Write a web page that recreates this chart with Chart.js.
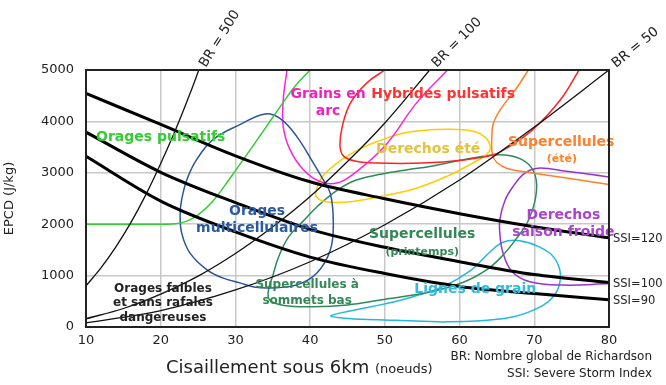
<!DOCTYPE html>
<html><head><meta charset="utf-8">
<script src="https://cdn.jsdelivr.net/npm/chart.js@4.4.1/dist/chart.umd.min.js"></script>
<style>html,body{margin:0;padding:0;background:#fff}#w{width:666px;height:385px;position:relative}</style>
</head><body><div id="w"><canvas id="c"></canvas></div>
<script>
// ---- data (shear in knots, EPCD in J/kg) ----
const xTicks = [10,20,30,40,50,60,70,80];
const yTicks = [0,1000,2000,3000,4000,5000];

const ssi120 = [[10,4545],[20,3940],[30,3330],[40,2825],[50,2495],[60,2205],[70,1950],[80,1735]];
const ssi100 = [[10,3790],[20,3010],[30,2420],[40,1900],[50,1550],[60,1270],[70,1020],[80,864]];
const ssi90  = [[10,3320],[20,2450],[30,1850],[40,1360],[50,1040],[60,790],[70,650],[80,530]];

const br500 = [[10,800],[12,1150],[14,1560],[16,2030],[18,2570],[20,3180],[22,3840],[24,4570],[25.1,5000]];
const br100 = [[10,160],[15,360],[20,640],[25,990],[30,1430],[35,1950],[40,2540],[45,3220],[50,3970],[56,5000]];
const br50  = [[10,80],[20,320],[30,720],[40,1270],[50,1990],[60,2860],[70,3890],[80,5000]];

const oragesPulsatifs = [[10,2000],[18,2000],[22,2010],[23.5,2060],[25,2180],[27,2450],[29.3,2900],[32,3450],[34,3870],[36.4,4370],[38,4690],[40,5000]];
const multicell = [[34,4145],[30.6,3937],[27,3645],[24.8,3255],[23.5,2865],[22.8,2475],[22.6,2200],[22.8,1832],[23.9,1442],[26.2,1111],[28.3,955],[30.6,858],[32.5,780],[34.6,760],[38.2,819],[40.9,1052],[42.7,1500],[43.1,2027],[42.7,2600],[41.6,2900],[40.4,3196],[38.2,3709],[36,4054]];
const grainsArc = [[36.9,5000],[36.4,4420],[36.4,3900],[37.3,3450],[39.1,3060],[41.3,2830],[43.6,2800],[46,3000],[50,3520],[54.3,4370],[58.4,5000]];
const hybrides = [[50,5000],[47.6,4750],[45.4,4360],[44.3,3900],[44,3520],[44.5,3320],[46.2,3225],[49,3190],[55,3190],[60.5,3250],[64.5,3350],[66.3,3480],[69.8,3840],[73.5,4420],[76,5000]];
const derechosEte = [[40.8,2650],[41.5,2900],[43,3120],[45,3330],[47.3,3510],[49.4,3630],[51.6,3740],[54,3810],[58,3845],[61.8,3810],[63.5,3680],[64.1,3480],[63.4,3330],[61.5,3170],[58.3,2930],[54,2690],[49.4,2540],[45,2430],[42,2440],[40.8,2540]];
const supercellEte = [[69.2,5000],[67.5,4620],[65.5,4240],[64.5,3950],[64.3,3600],[64.4,3350],[65,3200],[66.3,3090],[69.6,3000],[74.3,2900],[80,2770]];
const supercellPrint = [[65.5,3350],[68.3,3260],[69.9,3030],[70.3,2650],[69.3,2100],[67.5,1700],[65.5,1350],[63.5,1100],[60.5,870],[56,680],[49.4,526],[45,430],[40.4,395],[36.5,420],[34.6,520],[34.4,700],[35,1000],[35.8,1370],[37.1,1750],[39,2050],[41,2350],[43.5,2650],[46,2850],[49.4,2970],[53,3060],[56,3124],[61.8,3288]];
const derechosFroid = [[80,2920],[74.3,3030],[70.5,3090],[68.7,2990],[67.2,2740],[66.1,2470],[65.4,2100],[65.4,1800],[65.8,1450],[67,1080],[69.4,880],[73.9,815],[80,845]];
const lignesGrain = [[42.8,220],[46,330],[50,450],[54,600],[58,800],[61.5,1100],[64,1450],[65.8,1650],[68,1680],[70.5,1570],[72.6,1360],[73.5,1000],[72.6,600],[69.4,300],[65,150],[58.3,100],[51.6,130],[47,150],[44,180]];

const ssiLabels = ['SSI=120','SSI=100','SSI=90'];
const brLabels = ['BR = 500','BR = 100','BR = 50'];

// ---- chart ----
const FONT = "'DejaVu Sans', sans-serif";
const toPts = a => a.map(p => ({x:p[0], y:p[1]}));
function ds(data, color, width, extra) {
  return Object.assign({data: toPts(data), borderColor: color, borderWidth: width, pointRadius: 0,
    fill: false, tension: 0.4, showLine: true}, extra || {});
}
const datasets = [
  ds(br500, '#111', 1.3, {cubicInterpolationMode:'monotone'}),
  ds(br100, '#111', 1.3, {cubicInterpolationMode:'monotone'}),
  ds(br50,  '#111', 1.3, {cubicInterpolationMode:'monotone'}),
  ds(ssi120, '#000', 3, {cubicInterpolationMode:'monotone'}),
  ds(ssi100, '#000', 3, {cubicInterpolationMode:'monotone'}),
  ds(ssi90,  '#000', 3, {cubicInterpolationMode:'monotone'}),
  ds(oragesPulsatifs, '#33cc33', 1.5),
  ds(multicell, '#2a5599', 1.5, {closed:true}),
  ds(grainsArc, '#ff22dd', 1.5),
  ds(hybrides, '#ff2222', 1.5),
  ds(derechosEte, '#ffcc00', 1.5, {closed:true}),
  ds(supercellEte, '#ff7f2a', 1.5),
  ds(supercellPrint, '#2e8b57', 1.5, {closed:true}),
  ds(derechosFroid, '#9933cc', 1.5),
  ds(lignesGrain, '#22b8e0', 1.5, {closed:true})
];

const texts = [
  {t:'Orages pulsatifs', x:20.0, y:3684, c:'#33cc33', s:14},
  {t:'Orages', x:32.9, y:2241, c:'#2a5aa0', s:14},
  {t:'multicellulaires', x:32.9, y:1910, c:'#2a5aa0', s:14},
  {t:'Grains en', x:42.4, y:4522, c:'#ee22bb', s:14},
  {t:'arc', x:42.4, y:4190, c:'#ee22bb', s:14},
  {t:'Hybrides pulsatifs', x:57.8, y:4522, c:'#ff3333', s:14},
  {t:'Derechos été', x:55.8, y:3450, c:'#e3c23c', s:14},
  {t:'Supercellules', x:73.6, y:3586, c:'#ff7f2a', s:14},
  {t:'(été)', x:73.7, y:3274, c:'#ff7f2a', s:11},
  {t:'Derechos', x:73.9, y:2163, c:'#aa44cc', s:14},
  {t:'saison froide', x:73.9, y:1832, c:'#aa44cc', s:14},
  {t:'Supercellules', x:55.0, y:1793, c:'#338855', s:14},
  {t:'(printemps)', x:55.0, y:1462, c:'#338855', s:11},
  {t:'Supercellules à', x:39.6, y:819, c:'#338855', s:12},
  {t:'sommets bas', x:39.6, y:507, c:'#338855', s:12},
  {t:'Lignes de grain', x:62.1, y:741, c:'#33bbdd', s:14},
  {t:'Orages faibles', x:20.3, y:741, c:'#222', s:12},
  {t:'et sans rafales', x:20.3, y:468, c:'#222', s:12},
  {t:'dangereuses', x:20.3, y:175, c:'#222', s:12}
];

const loopPlugin = {
  id: 'loopClose',
  afterDatasetUpdate(chart, args) {
    const d = chart.data.datasets[args.index];
    if (d.closed && args.meta.dataset) {
      args.meta.dataset._loop = true;
      args.meta.dataset._fullLoop = true;
    }
  }
};

const decoPlugin = {
  id: 'deco',
  afterDatasetsDraw(chart) {
    const ctx = chart.ctx, xs = chart.scales.x, ys = chart.scales.y, a = chart.chartArea;
    ctx.save();
    ctx.textAlign = 'center'; ctx.textBaseline = 'middle';
    texts.forEach(o => {
      ctx.font = 'bold ' + o.s + 'px ' + FONT;
      ctx.fillStyle = o.c;
      ctx.fillText(o.t, xs.getPixelForValue(o.x), ys.getPixelForValue(o.y));
    });
    // frame
    ctx.strokeStyle = '#222'; ctx.lineWidth = 2;
    ctx.strokeRect(a.left, a.top, a.right - a.left, a.bottom - a.top);
    // SSI labels at curve ends
    ctx.font = '11.5px ' + FONT; ctx.fillStyle = '#222'; ctx.textAlign = 'left';
    [ssi120, ssi100, ssi90].forEach((arr, i) => {
      const p = arr[arr.length - 1];
      ctx.fillText(ssiLabels[i], xs.getPixelForValue(p[0]) + 4, ys.getPixelForValue(p[1]) + 1);
    });
    // BR labels at curve tops
    const angles = [-58, -45, -39];
    ctx.font = '13.5px ' + FONT; ctx.textBaseline = 'alphabetic';
    [br500, br100, br50].forEach((arr, i) => {
      const p = arr[arr.length - 1];
      ctx.save();
      ctx.translate(xs.getPixelForValue(p[0]) + 7, ys.getPixelForValue(p[1]) - 2);
      ctx.rotate(angles[i] * Math.PI / 180);
      ctx.fillText(brLabels[i], 0, 0);
      ctx.restore();
    });
    // x axis title
    ctx.textBaseline = 'alphabetic'; ctx.textAlign = 'left'; ctx.fillStyle = '#222';
    ctx.font = '18px ' + FONT;
    const t1 = 'Cisaillement sous 6km ';
    const x0 = a.left + 80, yb = a.bottom + 46;
    ctx.fillText(t1, x0, yb);
    const w1 = ctx.measureText(t1).width;
    ctx.font = '13px ' + FONT;
    ctx.fillText('(noeuds)', x0 + w1, yb);
    // notes
    ctx.font = '12px ' + FONT; ctx.textAlign = 'right'; ctx.textBaseline = 'middle';
    ctx.fillText('BR: Nombre global de Richardson', chart.width - 14, a.bottom + 30);
    ctx.fillText('SSI: Severe Storm Index', chart.width - 14, a.bottom + 47);
    ctx.restore();
  }
};

new Chart(document.getElementById('c'), {
  type: 'line',
  data: { datasets },
  options: {
    responsive: true, maintainAspectRatio: false, animation: false,
    layout: { padding: { top: 70, right: 57, left: 0, bottom: 0 } },
    plugins: { legend: { display: false }, tooltip: { enabled: false } },
    scales: {
      x: {
        type: 'linear', min: 10, max: 80,
        afterBuildTicks: s => { s.ticks = xTicks.map(v => ({value: v})); },
        afterFit: s => { s.height = 58; },
        grid: { color: '#c8c8c8', lineWidth: 1.5, drawTicks: false },
        border: { display: false },
        ticks: { color: '#222', font: { family: FONT, size: 13 }, padding: 6, maxRotation: 0, callback: v => String(v) }
      },
      y: {
        type: 'linear', min: 0, max: 5000,
        afterBuildTicks: s => { s.ticks = yTicks.map(v => ({value: v})); },
        afterFit: s => { s.width = 86; },
        grid: { color: '#c8c8c8', lineWidth: 1.5, drawTicks: false },
        border: { display: false },
        ticks: { color: '#222', font: { family: FONT, size: 13 }, padding: 12, callback: v => String(v) },
        title: { display: true, text: 'EPCD (J/kg)', color: '#222', font: { family: FONT, size: 13 }, padding: { top: 2, bottom: 0 } }
      }
    }
  },
  plugins: [loopPlugin, decoPlugin]
});
</script>
</body></html>
